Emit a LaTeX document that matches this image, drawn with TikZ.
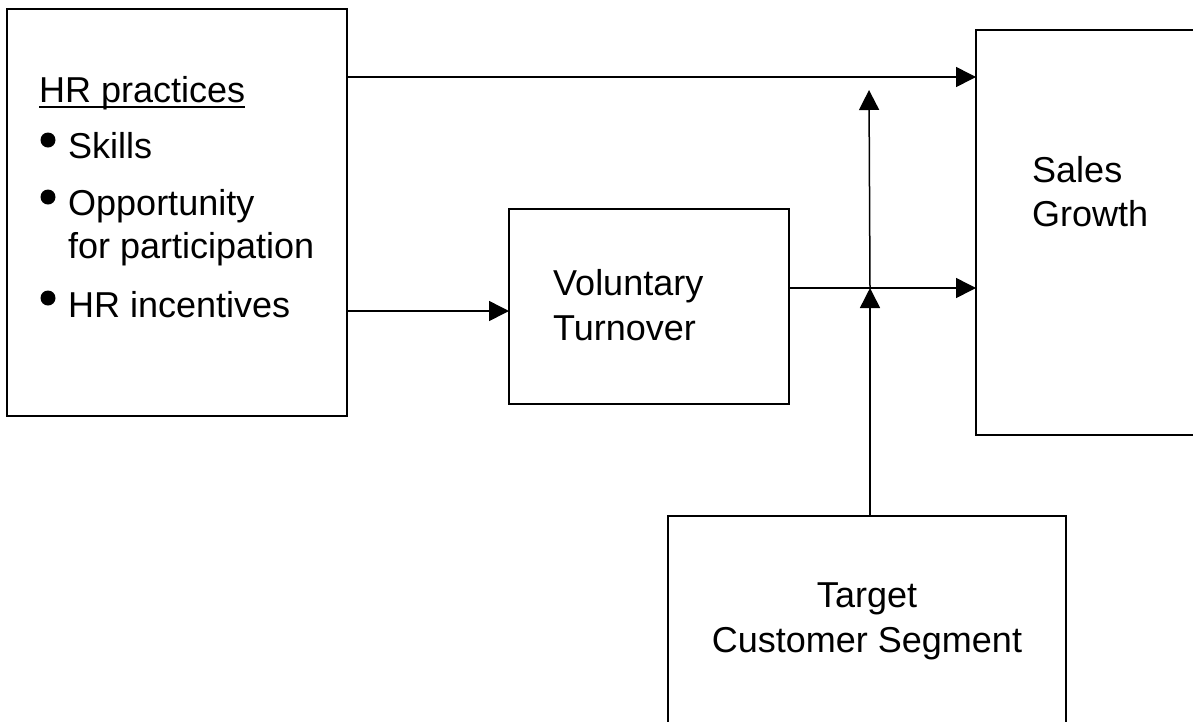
\documentclass[tikz,border=0pt]{standalone}
\usepackage{fontspec}
\setmainfont{Liberation Sans}
\usetikzlibrary{arrows.meta}

\tikzset{
  box/.style={draw, line width=1.8pt, rectangle, inner sep=0pt, outer sep=0pt, anchor=north west},
  lbl/.style={inner sep=0pt, font=\fontsize{36}{44}\selectfont},
  arr/.style={line width=1.5pt, -{Triangle[length=20pt,width=20pt]}},
  dot/.style={circle, fill, inner sep=0pt, minimum size=15pt},
}

\begin{document}
\begin{tikzpicture}[x=1pt, y=-1pt]
\useasboundingbox (0,0) rectangle (1193,721);
\clip (0,0) rectangle (1193,721);
% Boxes
\node[box, minimum width=340pt, minimum height=407pt] (hr) at (7,9) {};
\node[box, minimum width=280pt, minimum height=195pt] (turnover) at (509,209) {};
\node[box, minimum width=260pt, minimum height=405pt] (sales) at (976,30) {};
\node[box, minimum width=398pt, minimum height=260pt] (target) at (668,516) {};
% HR practices list
\node[lbl, anchor=base west] (hrtitle) at (39,102) {HR practices};
\draw[line width=2.5pt] ([yshift=-5pt]hrtitle.base west) -- ([yshift=-5pt]hrtitle.base east);
\node[dot] (d1) at (48,140) {};
\node[dot] (d2) at (48,197) {};
\node[dot] (d3) at (48,298) {};
\node[lbl, anchor=base west] (skills) at (68,158) {Skills};
\node[lbl, anchor=base west] (opp) at (68,215) {Opportunity};
\node[lbl, anchor=base west] (part) at (68,258) {for participation};
\node[lbl, anchor=base west] (incent) at (68,317) {HR incentives};
% Other labels
\node[lbl, anchor=base west] (vol) at (553,295) {Voluntary};
\node[lbl, anchor=base west] (turn) at (553,340) {Turnover};
\node[lbl, anchor=base west] (sal) at (1032,182) {Sales};
\node[lbl, anchor=base west] (grow) at (1032,226) {Growth};
\node[lbl, anchor=base] (targ) at (867,607) {Target};
\node[lbl, anchor=base] (cust) at (867,652) {Customer Segment};
% Connectors
\coordinate (toprow) at (0,77);
\coordinate (hrrow) at (0,311);
\coordinate (join) at (870,288);
\coordinate (modtip) at (869,90);
\draw[arr] (hr.east |- toprow) -- (sales.west |- toprow);
\draw[arr] (hr.east |- hrrow) -- (turnover.west |- hrrow);
\draw[arr] (turnover.east |- join) -- (sales.west |- join);
\draw[arr] (target.north -| join) -- (join);
\draw[arr] (join) -- (modtip);
\end{tikzpicture}
\end{document}
